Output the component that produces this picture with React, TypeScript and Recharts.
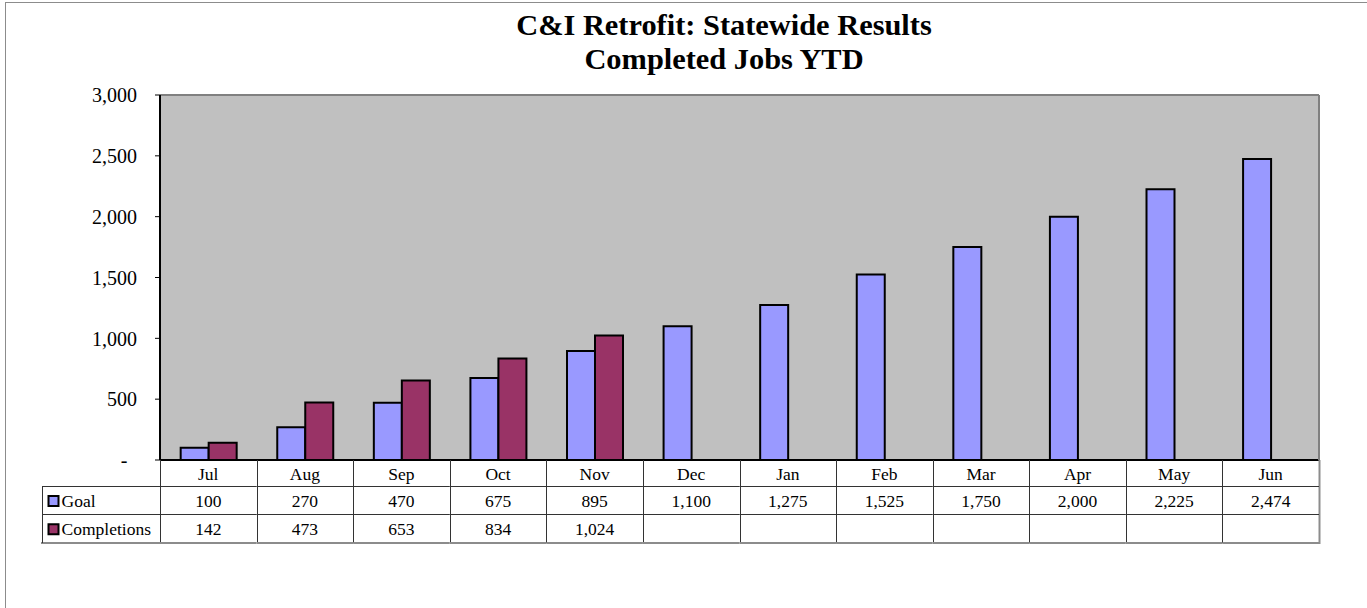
import React from 'react';
import { BarChart, Bar, XAxis, YAxis, CartesianGrid, ReferenceLine } from 'recharts';

const titleLines = ['C&I Retrofit: Statewide Results', 'Completed Jobs YTD'];
const months = ['Jul', 'Aug', 'Sep', 'Oct', 'Nov', 'Dec', 'Jan', 'Feb', 'Mar', 'Apr', 'May', 'Jun'];
const goalValues = [100, 270, 470, 675, 895, 1100, 1275, 1525, 1750, 2000, 2225, 2474];
const completionValues: (number | null)[] = [142, 473, 653, 834, 1024, null, null, null, null, null, null, null];
const seriesNames = ['Goal', 'Completions'];
const seriesColors = ['#9999FF', '#993366'];
const yTicks = [0, 500, 1000, 1500, 2000, 2500, 3000];

const data = months.map((m, i) => ({ month: m, goal: goalValues[i], completions: completionValues[i] }));

const FONT = '"Liberation Serif", "Times New Roman", serif';
const W = 1367;
const H = 608;
const MARGIN = { top: 95, right: 47, left: 60, bottom: 64 };
const YAXIS_W = 100;
const RAXIS_W = 1;
const XAXIS_H = 84;
const PLOT_W = W - MARGIN.left - MARGIN.right - YAXIS_W - RAXIS_W;
const CELL_W_FALLBACK = PLOT_W / months.length;
const ROW1 = 26.5;
const ROW2 = 54.5;
const ROW3 = 83;
const HEADER_W = 118;
const TABLE_FS = 17.5;
const INNER = '#333';
const OUTER = '#8c8c8c';

const fmt = (v: number | null | undefined) => (v == null ? '' : v.toLocaleString('en-US'));

const YTick = (props: any) => {
  const { x, y, payload } = props;
  const v = payload.value;
  const label = v === 0 ? '-' : fmt(v);
  return (
    <text x={x - (v === 0 ? 9.5 : 0)} y={y} dy="0.36em" textAnchor="end" fontSize={20} fill="#000" fontFamily={FONT}>
      {label}
    </text>
  );
};

const TableTick = (props: any) => {
  const { x, y, payload } = props;
  const idx = payload && payload.index != null ? payload.index : props.index;
  const w = payload && payload.offset ? payload.offset * 2 : CELL_W_FALLBACK;
  const left = x - w / 2;
  const right = x + w / 2;
  const y0 = y;
  const lx = Math.round(left) + 0.5;
  const rx = Math.round(right) + 0.5;
  const isLast = idx === months.length - 1;
  const rowVals = [goalValues[idx], completionValues[idx]];
  const els: any[] = [];
  els.push(<line key="vl" x1={lx} x2={lx} y1={y0} y2={y0 + ROW3} stroke={INNER} strokeWidth={1} />);
  if (isLast) {
    els.push(<line key="vr" x1={rx} x2={rx} y1={y0} y2={y0 + ROW3 + 1} stroke={OUTER} strokeWidth={2} />);
  }
  els.push(<line key="h1" x1={left} x2={right} y1={y0 + ROW1} y2={y0 + ROW1} stroke={INNER} strokeWidth={1} />);
  els.push(<line key="h2" x1={left} x2={right} y1={y0 + ROW2} y2={y0 + ROW2} stroke={INNER} strokeWidth={1} />);
  els.push(<line key="h3" x1={left} x2={right} y1={y0 + ROW3} y2={y0 + ROW3} stroke={OUTER} strokeWidth={2} />);
  els.push(
    <text key="t0" x={x} y={y0 + 20} textAnchor="middle" fontSize={TABLE_FS} fill="#000" fontFamily={FONT}>
      {months[idx]}
    </text>
  );
  els.push(
    <text key="t1" x={x} y={y0 + 47} textAnchor="middle" fontSize={TABLE_FS} fill="#000" fontFamily={FONT}>
      {fmt(rowVals[0])}
    </text>
  );
  els.push(
    <text key="t2" x={x} y={y0 + 75} textAnchor="middle" fontSize={TABLE_FS} fill="#000" fontFamily={FONT}>
      {fmt(rowVals[1])}
    </text>
  );
  if (idx === 0) {
    const hl = left - HEADER_W;
    const hlx = Math.round(hl) + 0.5;
    els.push(<line key="hh1" x1={hl} x2={left} y1={y0 + ROW1} y2={y0 + ROW1} stroke={INNER} strokeWidth={1} />);
    els.push(<line key="hh2" x1={hl} x2={left} y1={y0 + ROW2} y2={y0 + ROW2} stroke={INNER} strokeWidth={1} />);
    els.push(<line key="hh3" x1={hl - 1} x2={left} y1={y0 + ROW3} y2={y0 + ROW3} stroke={OUTER} strokeWidth={2} />);
    els.push(<line key="hvl" x1={hlx} x2={hlx} y1={y0 + ROW1} y2={y0 + ROW3} stroke={INNER} strokeWidth={1} />);
    seriesNames.forEach((name, si) => {
      const top = si === 0 ? y0 + ROW1 : y0 + ROW2;
      const bottom = si === 0 ? y0 + ROW2 : y0 + ROW3;
      const cy = (top + bottom) / 2;
      els.push(
        <rect key={'ls' + si} x={hl + 6.5} y={cy - 4.5} width={10} height={10} fill={seriesColors[si]} stroke="#000" strokeWidth={2} />
      );
      els.push(
        <text key={'lt' + si} x={hl + 19.5} y={cy + 6.5} textAnchor="start" fontSize={TABLE_FS} fill="#000" fontFamily={FONT}>
          {name}
        </text>
      );
    });
  }
  return <g>{els}</g>;
};

export default function App() {
  return (
    <div style={{ position: 'absolute', left: 0, top: 0, width: W, height: H, overflow: 'hidden', background: '#fff', fontFamily: FONT }}>
      <div style={{ position: 'absolute', left: 5, top: 2, width: 3000, height: 3000, border: '1px solid #8c8c8c' }} />
      <div
        style={{
          position: 'absolute',
          left: 424,
          top: 8,
          width: 600,
          textAlign: 'center',
          fontSize: 30.4,
          lineHeight: '34px',
          fontWeight: 'bold',
          color: '#000',
          fontFamily: FONT,
          whiteSpace: 'nowrap',
        }}
      >
        {titleLines.map((t) => (
          <div key={t}>{t}</div>
        ))}
      </div>
      <div style={{ position: 'absolute', left: 0, top: 0 }}>
        <BarChart width={W} height={H} data={data} margin={MARGIN} barCategoryGap="21.4%" barGap={0}>
          <CartesianGrid fill="#C0C0C0" horizontal={false} vertical={false} />
          <ReferenceLine y={3000} stroke="#808080" strokeWidth={2} />
          <XAxis
            dataKey="month"
            height={XAXIS_H}
            interval={0}
            tickLine={false}
            tickSize={0}
            tickMargin={0}
            axisLine={{ stroke: '#000', strokeWidth: 2 }}
            tick={<TableTick />}
          />
          <YAxis
            width={YAXIS_W}
            domain={[0, 3000]}
            ticks={yTicks}
            interval={0}
            tickSize={5}
            tickMargin={18}
            tickLine={{ stroke: '#000' }}
            axisLine={{ stroke: '#000', strokeWidth: 2 }}
            tick={<YTick />}
          />
          <YAxis
            yAxisId="right"
            orientation="right"
            width={RAXIS_W}
            domain={[0, 3000]}
            tick={false}
            tickLine={false}
            axisLine={{ stroke: '#808080', strokeWidth: 2 }}
          />
          <Bar dataKey="goal" name={seriesNames[0]} fill={seriesColors[0]} stroke="#000" strokeWidth={2} isAnimationActive={false} />
          <Bar dataKey="completions" name={seriesNames[1]} fill={seriesColors[1]} stroke="#000" strokeWidth={2} isAnimationActive={false} />
        </BarChart>
      </div>
    </div>
  );
}
